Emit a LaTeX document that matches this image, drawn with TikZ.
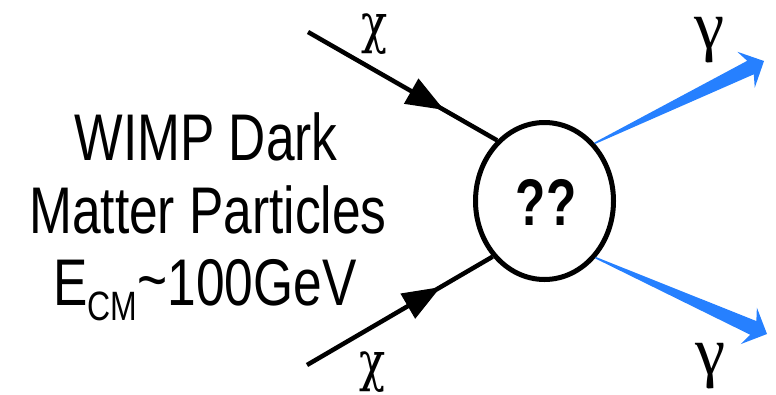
\documentclass[tikz,border=0pt]{standalone}
\usepackage{fontspec}
\setmainfont{Liberation Sans}
\newfontfamily\greekfont{DejaVu Serif}
\newfontfamily\gammafont{Liberation Serif}
\usetikzlibrary{shapes.geometric,arrows.meta,decorations.markings,calc}
\definecolor{photonblue}{RGB}{38,128,255}
\tikzset{
  txtline/.style={font=\fontsize{66}{66}\selectfont, inner sep=0pt, anchor=base},
  greeklbl/.style={font=\greekfont\fontsize{54}{54}\selectfont, inner sep=0pt},
  gammalbl/.style={font=\gammafont\fontsize{68}{68}\selectfont, inner sep=0pt},
  blobstyle/.style={draw, line width=5pt, ellipse, inner sep=0pt, minimum width=138pt, minimum height=157pt},
  fermion/.style={line width=4.5pt, postaction={decorate},
    decoration={markings, mark=at position 0.72 with {\arrow{Triangle[length=38pt,width=28pt]}}}},
  photon/.style={fill=photonblue}
}
\begin{document}
\begin{tikzpicture}[x=1pt,y=-1pt]
\useasboundingbox (0,0) rectangle (776,394);
% text block
\node[txtline] (t1) at (206,160) {\scalebox{0.78}[1]{WIMP Dark}};
\node[txtline] (t2) at (208,233) {\scalebox{0.78}[1]{Matter Particles}};
\node[txtline] (t3) at (205,305) {\scalebox{0.78}[1]{E\raisebox{-15pt}{\fontsize{41}{41}\selectfont CM}\raisebox{3pt}{\~{}}100GeV}};
% blob
\node[blobstyle] (blob) at (544.5,201) {};
\node[txtline, font=\bfseries\fontsize{66}{66}\selectfont] (qq) at (546,225) {\scalebox{0.75}[1]{??}};
% incoming fermions
\coordinate (c1) at (308,32);
\coordinate (c2) at (307,365);
\draw[fermion] (c1) -- (blob.128.6);
\draw[fermion] (c2) -- (blob.227.3);
\node[greeklbl] (chi1) at (375,34) {\scalebox{0.8}[1]{χ}};
\node[greeklbl] (chi2) at (373,372) {\scalebox{0.8}[1]{χ}};
% outgoing photons
\coordinate (g1s) at (blob.49.3);
\coordinate (g1t) at (764,61);
\coordinate (g1b) at ($(g1t)!20pt!(g1s)$);
\coordinate (g1j) at ($(g1t)!15pt!(g1s)$);
\fill[photon] ($(g1s)!0.8pt!90:(g1t)$) -- ($(g1j)!7.5pt!90:(g1t)$) -- ($(g1b)!20pt!90:(g1t)$) -- (g1t)
  -- ($(g1b)!20pt!-90:(g1t)$) -- ($(g1j)!7.5pt!-90:(g1t)$) -- ($(g1s)!0.8pt!-90:(g1t)$) -- cycle;
\coordinate (g2s) at (blob.312);
\coordinate (g2t) at (767,334);
\coordinate (g2b) at ($(g2t)!20pt!(g2s)$);
\coordinate (g2j) at ($(g2t)!15pt!(g2s)$);
\fill[photon] ($(g2s)!0.8pt!90:(g2t)$) -- ($(g2j)!7.5pt!90:(g2t)$) -- ($(g2b)!20pt!90:(g2t)$) -- (g2t)
  -- ($(g2b)!20pt!-90:(g2t)$) -- ($(g2j)!7.5pt!-90:(g2t)$) -- ($(g2s)!0.8pt!-90:(g2t)$) -- cycle;
\node[gammalbl] (gam1) at (710,40) {γ};
\node[gammalbl] (gam2) at (711,366) {γ};
\end{tikzpicture}
\end{document}
